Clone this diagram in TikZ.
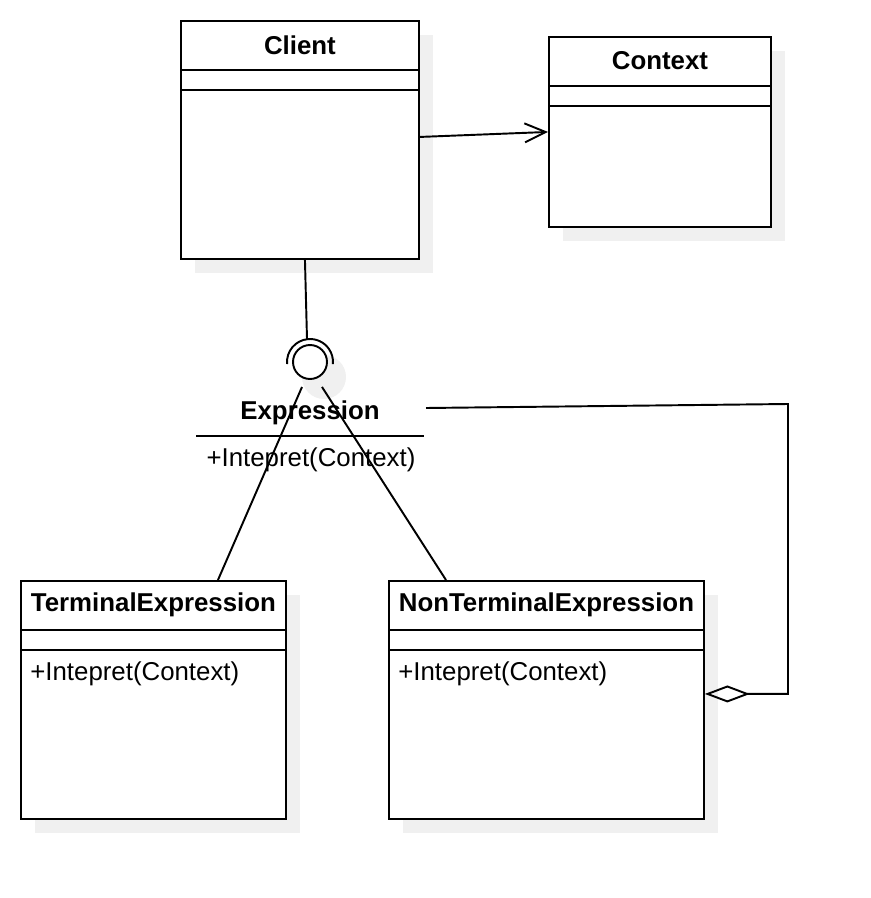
\documentclass[tikz,border=0pt]{standalone}
\usepackage{fontspec}
\setmainfont{Liberation Sans}
\usepackage{tikz}
\usetikzlibrary{positioning,calc,shadows,arrows.meta}
\definecolor{shadowgray}{HTML}{F0F0F0}
\newcommand{\umlsize}{\fontsize{14.7}{17}\selectfont}
\tikzset{
  classbox/.style={draw, fill=white, rectangle, inner sep=0pt, anchor=north west, line width=1.1pt,
    general shadow={fill=shadowgray, shadow xshift=0.28cm, shadow yshift=-0.28cm}},
  classname/.style={font=\umlsize\bfseries, inner sep=0pt},
  member/.style={anchor=west, inner sep=0pt},
  rule/.style={line width=1.1pt},
  assoc/.style={line width=1.1pt, -{Straight Barb[length=0.42cm, width=0.38cm, line width=1.1pt]}},
  aggr/.style={line width=1.1pt, -{Diamond[open, length=0.9cm, width=0.34cm, line width=1.1pt]}},
  link/.style={line width=1.1pt}
}

\begin{document}
\begin{tikzpicture}[x=0.02cm, y=-0.02cm, font=\umlsize]
  \useasboundingbox (0,0) rectangle (870,898);

  % class boxes
  \node[classbox, minimum width=4.76cm, minimum height=4.76cm] (client) at (180,20) {};
  \node[classbox, minimum width=4.44cm, minimum height=3.8cm] (context) at (548,36) {};
  \node[classbox, minimum width=5.3cm, minimum height=4.76cm] (terminal) at (20,580) {};
  \node[classbox, minimum width=6.3cm, minimum height=4.76cm] (nonterm) at (388,580) {};

  \foreach \c/\t in {client/Client, context/Context, terminal/TerminalExpression, nonterm/NonTerminalExpression} {
    \node[classname] (\c-name) at ($(\c.north)+(0,25)$) {\t};
    \draw[rule] ($(\c.north west)+(0,50)$) -- ($(\c.north east)+(0,50)$);
    \draw[rule] ($(\c.north west)+(0,70)$) -- ($(\c.north east)+(0,70)$);
  }
  \node[member] (terminal-op) at ($(terminal.north west)+(10,94)$) {+Intepret(Context)};
  \node[member] (nonterm-op) at ($(nonterm.north west)+(10,94)$) {+Intepret(Context)};

  % interface
  \fill[shadowgray] (324,377) circle (22);
  \node[draw, fill=white, circle, line width=1.1pt, minimum size=0.68cm, inner sep=0pt] (iface) at (310,362) {};
  \draw[link] (iface.center) ++(175:23) arc[start angle=175, end angle=365, radius=23];
  \coordinate (socket) at (307,339);
  \node[classname] (expr) at (310,413) {Expression};
  \draw[rule] (196,436) -- (424,436);
  \node[inner sep=0pt] (expr-op) at (311,460) {+Intepret(Context)};
  \coordinate (aggstart) at (426,408);

  % connectors
  \draw[assoc] ([yshift=0.06cm]client.east) -- (context.west);
  \draw[link] ([xshift=0.1cm]client.south) -- (socket);
  \draw[link] ($(iface.south)+(-8,7)$) -- ([xshift=3.96cm]terminal.north west);
  \draw[link] ($(iface.south)+(12,7)$) -- ([xshift=1.16cm]nonterm.north west);
  \draw[aggr] (aggstart) -- ++(362,-4) |- ([yshift=0.12cm]nonterm.east);
\end{tikzpicture}
\end{document}
